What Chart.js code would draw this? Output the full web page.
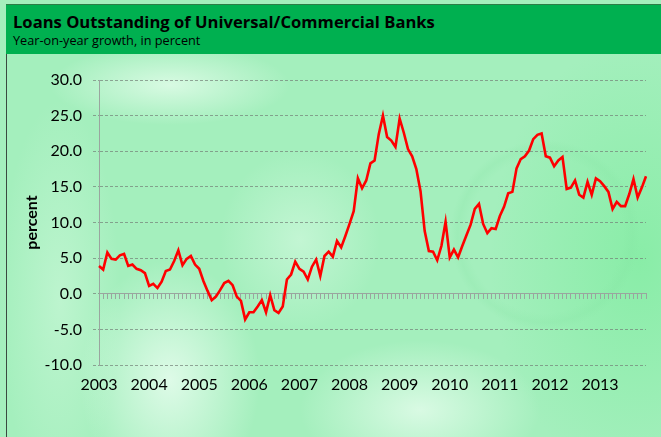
<!DOCTYPE html>
<html>
<head>
<meta charset="utf-8">
<script src="https://cdn.jsdelivr.net/npm/chart.js@4.4.1/dist/chart.umd.min.js"></script>
<style>
  html, body { margin: 0; padding: 0; }
  body { width: 661px; height: 437px; overflow: hidden; position: relative; font-family: Lato, "Open Sans", sans-serif; }
  #bg {
    position: absolute; left: 0; top: 0; width: 661px; height: 437px;
    background:
      radial-gradient(ellipse 120px 40px at 170px 85px, rgba(225,252,233,0.85), rgba(225,252,233,0) 100%),
      radial-gradient(ellipse 90px 120px at 170px 380px, rgba(228,252,236,0.9), rgba(228,252,236,0) 100%),
      radial-gradient(ellipse 120px 70px at 420px 410px, rgba(226,252,234,0.85), rgba(226,252,234,0) 100%),
      radial-gradient(ellipse 80px 90px at 300px 240px, rgba(215,250,226,0.6), rgba(215,250,226,0) 100%),
      radial-gradient(ellipse 60px 200px at 60px 300px, rgba(205,248,218,0.6), rgba(205,248,218,0) 100%),
      radial-gradient(circle 95px at 545px 235px, rgba(130,225,160,0) 82%, rgba(130,225,160,0.18) 92%, rgba(130,225,160,0) 100%),
      radial-gradient(ellipse 150px 220px at 640px 260px, rgba(128,236,160,0.75), rgba(128,236,160,0) 100%),
      #a4efbd;
  }
  #frame { position: absolute; left: 6px; top: 4px; width: 655px; height: 433px; border-left: 1px solid #3a4a40; }
  #band { position: absolute; left: 6px; top: 4px; width: 655px; height: 49px; background: #00b050; border-top: 1px solid #2d7d47; }
  #title { position: absolute; left: 13px; top: 10px; font: bold 16.6px "Open Sans", sans-serif; color: #000; white-space: nowrap; }
  #subtitle { position: absolute; left: 13px; top: 31px; font: 12.7px "Open Sans", sans-serif; color: #000; white-space: nowrap; }
  #chart { position: absolute; left: 0; top: 0; }
</style>
</head>
<body>
<div id="bg"></div>
<div id="frame"></div>
<div id="band"></div>
<div id="title">Loans Outstanding of Universal/Commercial Banks</div>
<div id="subtitle">Year-on-year growth, in percent</div>
<canvas id="chart" width="661" height="437"></canvas>
<script>
// monthly categories, Jan 2003 – Dec 2013
const years = [2003, 2004, 2005, 2006, 2007, 2008, 2009, 2010, 2011, 2012, 2013];
const monthNames = ['Jan', 'Feb', 'Mar', 'Apr', 'May', 'Jun', 'Jul', 'Aug', 'Sep', 'Oct', 'Nov', 'Dec'];

// y-o-y growth of outstanding loans, percent
const loanGrowth = [
    3.9, 3.4, 5.8, 4.9, 4.8, 5.4, 5.6, 3.9, 4.1, 3.5, 3.3, 2.9,
    1.1, 1.4, 0.8, 1.7, 3.2, 3.4, 4.6, 6.1, 4.0, 4.9, 5.3, 4.1,
    3.5, 1.8, 0.4, -0.9, -0.4, 0.5, 1.5, 1.8, 1.2, -0.4, -1.0, -3.6,
    -2.6, -2.6, -1.8, -0.9, -2.6, -0.2, -2.3, -2.7, -1.8, 2.0, 2.7, 4.5,
    3.5, 3.1, 2.0, 3.8, 4.8, 2.5, 5.3, 5.9, 5.2, 7.4, 6.5, 8.1,
    9.8, 11.6, 16.2, 14.8, 15.9, 18.3, 18.7, 22.4, 25.0, 22.0, 21.5, 20.6,
    24.6, 22.6, 20.3, 19.3, 17.5, 14.4, 8.8, 6.0, 5.9, 4.7, 6.7, 10.1,
    5.1, 6.2, 5.1, 6.7, 8.2, 9.7, 11.9, 12.6, 9.8, 8.5, 9.2, 9.1,
    10.9, 12.2, 14.1, 14.3, 17.6, 18.9, 19.3, 20.1, 21.7, 22.3, 22.5, 19.3,
    19.1, 17.9, 18.7, 19.2, 14.7, 14.9, 15.9, 13.9, 13.5, 15.7, 13.9, 16.2,
    15.8, 15.1, 14.3, 11.9, 12.9, 12.3, 12.3, 14.0, 16.1, 13.5, 14.9, 16.5
];

const yMin = -10, yMax = 30, yStep = 5;

const labels = years.flatMap(y => monthNames.map(m => `${m} ${y}`));

const gridGray = 'rgba(115,128,120,0.7)';
const axisGray = '#9aa59f';
const tickFont = { family: 'Lato', size: 16 };

const ctx = document.getElementById('chart').getContext('2d');
new Chart(ctx, {
    type: 'line',
    data: {
        labels,
        datasets: [{
            label: 'Loans outstanding',
            data: loanGrowth,
            borderColor: '#ff0000',
            borderWidth: 2.6,
            pointRadius: 0,
            tension: 0,
            fill: false,
            xAxisID: 'x'
        }]
    },
    options: {
        responsive: false,
        animation: false,
        layout: { padding: { top: 80, right: 15, left: 0, bottom: 0 } },
        plugins: { legend: { display: false }, tooltip: { enabled: false } },
        scales: {
            x: {
                type: 'category',
                position: 'bottom',
                grid: { display: false },
                border: { display: false },
                ticks: {
                    autoSkip: false,
                    maxRotation: 0,
                    padding: 2,
                    color: '#000',
                    font: tickFont,
                    callback: (v, i) => i % 12 === 0 ? labels[i].slice(4) : null
                },
                afterFit: s => { s.height = 72; }
            },
            // category axis crossing at zero, monthly tick marks
            xZero: {
                type: 'category',
                position: { y: 0 },
                ticks: { display: false },
                grid: { drawOnChartArea: false, drawTicks: true, tickLength: 5, color: axisGray },
                border: { display: true, color: axisGray, width: 1 },
                afterFit: s => { s.height = 0; }
            },
            y: {
                min: yMin,
                max: yMax,
                ticks: {
                    stepSize: yStep,
                    padding: 11,
                    color: '#000',
                    font: tickFont,
                    callback: v => v.toFixed(1)
                },
                grid: { color: gridGray, tickLength: 6, tickColor: gridGray, lineWidth: 1, tickBorderDash: [3, 2] },
                // dash here also applies to the horizontal grid lines
                border: { display: true, color: axisGray, dash: [3, 2] },
                title: {
                    display: true,
                    text: 'percent',
                    color: '#000',
                    font: { family: 'Lato', size: 16, weight: 'bold' },
                    padding: { top: 22, bottom: 0 }
                },
                afterFit: s => { s.width = 99; }
            }
        }
    }
});
</script>
</body>
</html>
